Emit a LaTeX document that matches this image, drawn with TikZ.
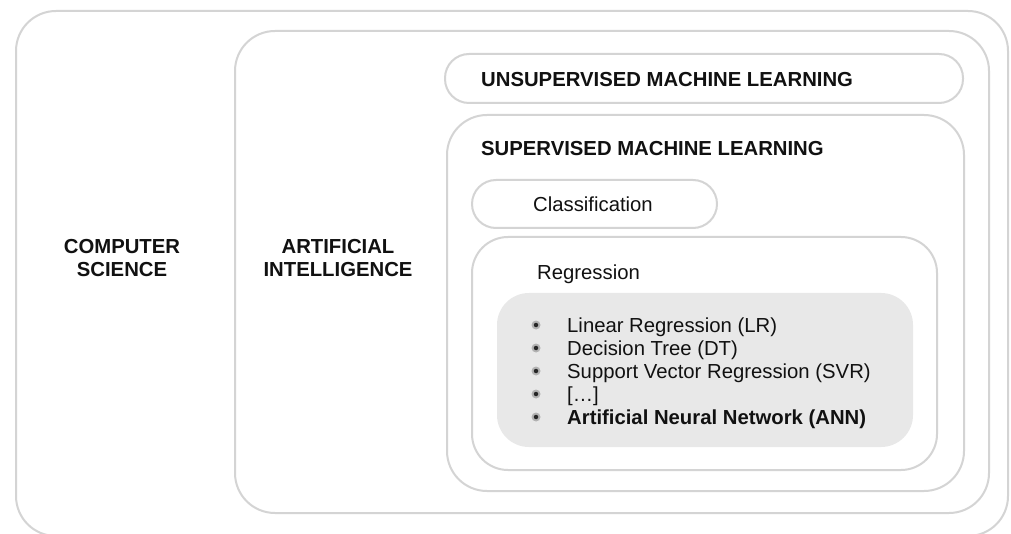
\documentclass[tikz,border=0pt]{standalone}
\usepackage{fontspec}
\setmainfont{Liberation Sans}
\definecolor{boxline}{HTML}{D4D4D4}
\definecolor{greyfill}{HTML}{E8E8E8}
\definecolor{txt}{HTML}{111111}
\begin{document}
\begin{tikzpicture}[x=1pt,y=-1pt,
  box/.style={draw=boxline,line width=2pt},
  lbl/.style={inner sep=0pt,text=txt,font=\fontsize{20.3}{23}\selectfont},
  blbl/.style={lbl,font=\fontsize{20.3}{23}\selectfont\bfseries},
  bul/.style={circle,inner sep=0pt,minimum size=9pt,fill=gray!60},
  buldot/.style={circle,inner sep=0pt,minimum size=4.5pt,fill=black!85}]
\useasboundingbox (0,0) rectangle (1011,534);
\fill[white] (0,0) rectangle (1011,534);
% boxes
\draw[box,rounded corners=40pt] (16,11) rectangle (1008,536);
\draw[box,rounded corners=40pt] (235,31) rectangle (989,513);
\draw[box,rounded corners=24pt] (445,54) rectangle (963,103);
\draw[box,rounded corners=40pt] (447,115) rectangle (964,491);
\draw[box,rounded corners=24pt] (472,180) rectangle (717,228);
\draw[box,rounded corners=36pt] (472,237) rectangle (937,470);
\fill[greyfill,rounded corners=32pt] (497,293) rectangle (913,447);
% labels
\node[blbl,anchor=base] (cs1) at (122,254) {COMPUTER};
\node[blbl,anchor=base] (cs2) at (122,277) {SCIENCE};
\node[blbl,anchor=base] (ai1) at (338,254) {ARTIFICIAL};
\node[blbl,anchor=base] (ai2) at (338,277) {INTELLIGENCE};
\node[blbl,anchor=base west] (uml) at (481,87) {UNSUPERVISED MACHINE LEARNING};
\node[blbl,anchor=base west] (sml) at (481,156) {SUPERVISED MACHINE LEARNING};
\node[lbl,anchor=base west] (cls) at (533,212) {Classification};
\node[lbl,anchor=base west] (reg) at (537,280) {Regression};
% list
\foreach \i/\t/\y in {1/{Linear Regression (LR)}/332,
                      2/{Decision Tree (DT)}/355,
                      3/{Support Vector Regression (SVR)}/378,
                      4/{[…]}/401,
                      5/{\bfseries Artificial Neural Network (ANN)}/424}{
  \node[bul] (b\i) at (536,\y-7) {};
  \node[buldot] (d\i) at (b\i) {};
  \node[lbl,anchor=base west] (t\i) at (567,\y) {\t};
}
\end{tikzpicture}
\end{document}
